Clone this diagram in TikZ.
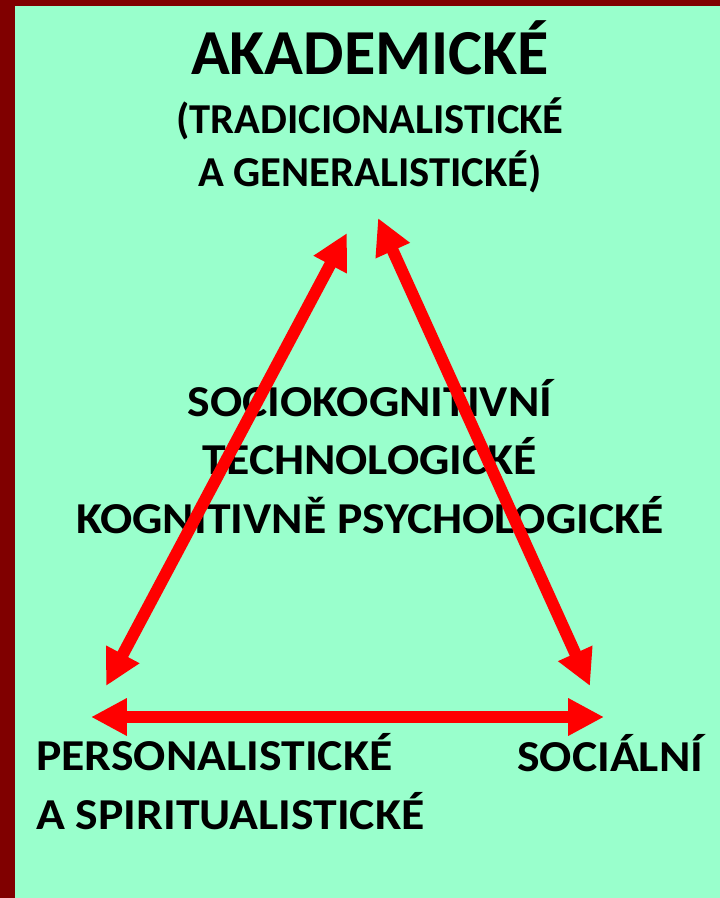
\documentclass[tikz,border=0pt]{standalone}
\usepackage{fontspec}
\setmainfont{Carlito}[FakeStretch=1.08]
\newfontfamily\titlefont{Carlito}
\usetikzlibrary{arrows.meta}
\definecolor{mint}{HTML}{99FFCC}
\definecolor{frame}{HTML}{800000}
\definecolor{arrred}{HTML}{FF0000}
\tikzset{
  bigtext/.style={font=\titlefont\fontsize{45.6pt}{54pt}\selectfont\bfseries},
  subtext/.style={font=\titlefont\fontsize{30.3pt}{38.3pt}\selectfont\bfseries},
  lbl/.style={font=\fontsize{31.4pt}{38.3pt}\selectfont\bfseries},
  lbltall/.style={font=\fontsize{31.4pt}{41.4pt}\selectfont\bfseries},
  dblarrow/.style={draw=arrred, line width=8.5pt,
    {Triangle[length=25.5pt,width=25pt]}-{Triangle[length=25.5pt,width=25pt]}}
}
\begin{document}
\begin{tikzpicture}[x=0.025cm,y=-0.025cm]
\useasboundingbox (0,0) rectangle (720,898);
\fill[frame] (0,0) rectangle (720,898);
\fill[mint] (15,6) rectangle (720,898);
\node[bigtext,anchor=base,inner sep=0] (akad) at (370,75) {AKADEMICKÉ};
\node[subtext,anchor=base,align=center,inner sep=0] (trad) at (370,187) {(TRADICIONALISTICKÉ\\A GENERALISTICKÉ)};
\node[lbltall,anchor=base,align=center,inner sep=0] (mid) at (370,533) {SOCIOKOGNITIVNÍ\\TECHNOLOGICKÉ\\KOGNITIVNĚ PSYCHOLOGICKÉ};
\node[lbltall,anchor=base west,align=left,inner sep=0] (pers) at (36,829) {PERSONALISTICKÉ\\A SPIRITUALISTICKÉ};
\node[lbl,anchor=base west,inner sep=0] (soc) at (517,771) {SOCIÁLNÍ};
\coordinate (topl) at (347,233);
\coordinate (topr) at (378,218);
\coordinate (botl) at (106,686);
\coordinate (botr) at (590,686);
\coordinate (basel) at (91,717);
\coordinate (baser) at (604,717);
\draw[dblarrow] (topl) -- (botl);
\draw[dblarrow] (topr) -- (botr);
\draw[dblarrow] (basel) -- (baser);
\end{tikzpicture}
\end{document}
